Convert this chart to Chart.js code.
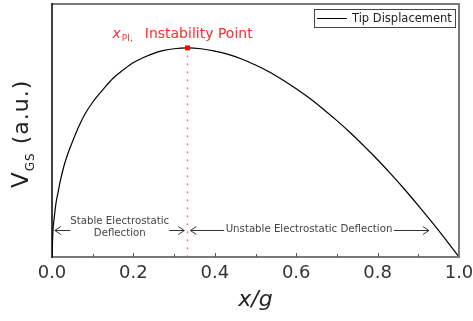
<!DOCTYPE html>
<html>
<head>
<meta charset="utf-8">
<script src="https://cdn.jsdelivr.net/npm/chart.js@4/dist/chart.umd.min.js"></script>
<style>
html,body{margin:0;padding:0;background:#fff;}
#wrap{width:473px;height:321px;}
</style>
</head>
<body>
<div id="wrap"><canvas id="c" width="473" height="321"></canvas></div>
<script>
// ---- data ----
const xValues   = [0, 0.0025, 0.005, 0.01, 0.015, 0.02, 0.03, 0.04, 0.05, 0.065, 0.08, 0.1, 0.125, 0.15, 0.175, 0.2, 0.225, 0.25, 0.275, 0.3, 0.333, 0.366, 0.4, 0.433, 0.466, 0.5, 0.533, 0.566, 0.6, 0.633, 0.666, 0.7, 0.733, 0.766, 0.8, 0.833, 0.866, 0.9, 0.933, 0.966, 1.0];
const vgsValues = [0, 0.13, 0.18, 0.26, 0.31, 0.36, 0.44, 0.50, 0.55, 0.62, 0.68, 0.74, 0.80, 0.855, 0.895, 0.93, 0.954, 0.974, 0.988, 0.996, 1.0, 0.996, 0.985, 0.969, 0.947, 0.918, 0.886, 0.848, 0.805, 0.759, 0.708, 0.652, 0.594, 0.532, 0.465, 0.396, 0.324, 0.246, 0.168, 0.087, 0];
const pullInX = [0.333];
const pullInV = [1.0];
const xTickValues = [0, 0.2, 0.4, 0.6, 0.8, 1.0];
const seriesName = 'Tip Displacement';
const stableLabel = ['Stable Electrostatic', 'Deflection'];
const unstableLabel = 'Unstable Electrostatic Deflection';
// arrow spans in data x: [tail, head]
const arrowSpans = [[0.045, 0.007], [0.288, 0.325], [0.423, 0.34], [0.84, 0.926]];
const annotY = 0.13;

const FONT = '"DejaVu Sans", Verdana, sans-serif';

const curve = xValues.map((x, i) => ({x: x, y: vgsValues[i]}));
const marker = pullInX.map((x, i) => ({x: x, y: pullInV[i]}));
const dotted = [{x: pullInX[0], y: 0}, {x: pullInX[0], y: pullInV[0]}];

const framePlugin = {
  id: 'frame',
  afterDraw(chart) {
    const ctx = chart.ctx, a = chart.chartArea, xs = chart.scales.x;
    ctx.save();
    ctx.strokeStyle = '#7a7a7a';
    ctx.lineWidth = 2;
    ctx.beginPath();
    ctx.moveTo(a.left, a.top); ctx.lineTo(a.right, a.top); ctx.lineTo(a.right, a.bottom);
    ctx.stroke();
    ctx.beginPath();
    ctx.moveTo(a.left, a.bottom); ctx.lineTo(a.right + 1, a.bottom);
    ctx.stroke();
    ctx.lineWidth = 1;
    ctx.strokeStyle = '#555';
    for (let i = 1; i < 10; i++) {
      const v = i / 10;
      const px = Math.round(xs.getPixelForValue(v)) + 0.5;
      const len = (i % 2 === 0) ? 4 : 3;
      ctx.beginPath(); ctx.moveTo(px, a.bottom); ctx.lineTo(px, a.bottom - len); ctx.stroke();
    }
    ctx.strokeStyle = '#000';
    ctx.lineWidth = 1.5;
    ctx.beginPath();
    ctx.moveTo(a.left, a.top - 1); ctx.lineTo(a.left, a.bottom + 1);
    ctx.stroke();
    ctx.restore();
  }
};

const yTitlePlugin = {
  id: 'ytitle',
  afterDraw(chart) {
    const ctx = chart.ctx;
    ctx.save();
    ctx.translate(28, 188);
    ctx.rotate(-Math.PI / 2);
    ctx.fillStyle = '#222';
    ctx.textBaseline = 'alphabetic';
    ctx.textAlign = 'left';
    ctx.font = '23px ' + FONT;
    ctx.fillText('V', 0, 0);
    let w = ctx.measureText('V').width;
    ctx.font = '12px ' + FONT;
    ctx.letterSpacing = '1px';
    ctx.fillText('GS', w + 1, 6);
    w += 1 + ctx.measureText('GS').width + 8;
    ctx.font = '22px ' + FONT;
    ctx.letterSpacing = '1px';
    ctx.fillText('(a.u.)', w, 0);
    ctx.restore();
  }
};

const legendPlugin = {
  id: 'legendbox',
  afterDraw(chart) {
    const ctx = chart.ctx;
    ctx.save();
    ctx.strokeStyle = '#444';
    ctx.lineWidth = 1;
    ctx.strokeRect(314.5, 9.5, 141, 18);
    ctx.strokeStyle = '#000';
    ctx.beginPath(); ctx.moveTo(317, 18.5); ctx.lineTo(347, 18.5); ctx.stroke();
    ctx.fillStyle = '#222';
    ctx.font = '11.5px ' + FONT;
    ctx.textBaseline = 'middle';
    ctx.textAlign = 'left';
    ctx.fillText(seriesName, 352, 19);
    ctx.restore();
  }
};

const annotPlugin = {
  id: 'annot',
  afterDatasetsDraw(chart) {
    const ctx = chart.ctx, xs = chart.scales.x, ys = chart.scales.y;
    ctx.save();
    const px = xs.getPixelForValue(pullInX[0]);
    const py = ys.getPixelForValue(pullInV[0]);
    ctx.fillStyle = '#ff2a2a';
    ctx.textBaseline = 'alphabetic';
    ctx.textAlign = 'left';
    let tx = px - 75, ty = py - 10;
    ctx.font = 'italic 14px ' + FONT;
    ctx.fillText('x', tx, ty);
    tx += ctx.measureText('x').width + 1;
    ctx.font = '9px ' + FONT;
    ctx.fillText('PI,', tx, ty + 3);
    tx += ctx.measureText('PI,').width + 12;
    ctx.font = '14px ' + FONT;
    ctx.fillText('Instability Point', tx, ty);

    const ay = Math.round(ys.getPixelForValue(annotY)) + 0.5;
    ctx.strokeStyle = '#333';
    ctx.lineWidth = 1;
    arrowSpans.forEach(([t, h]) => {
      const x0 = xs.getPixelForValue(t), x1 = xs.getPixelForValue(h);
      const dir = Math.sign(x1 - x0);
      ctx.beginPath();
      ctx.moveTo(x0, ay); ctx.lineTo(x1, ay);
      ctx.moveTo(x1 - dir * 6, ay - 4); ctx.lineTo(x1, ay); ctx.lineTo(x1 - dir * 6, ay + 4);
      ctx.stroke();
    });
    ctx.fillStyle = '#444';
    ctx.font = '10.2px ' + FONT;
    ctx.textAlign = 'center';
    ctx.textBaseline = 'middle';
    const sx = (xs.getPixelForValue(arrowSpans[0][0]) + xs.getPixelForValue(arrowSpans[1][0])) / 2;
    ctx.fillText(stableLabel[0], sx, ay - 9);
    ctx.fillText(stableLabel[1], sx, ay + 3);
    const ux = (xs.getPixelForValue(arrowSpans[2][0]) + xs.getPixelForValue(arrowSpans[3][0])) / 2;
    ctx.fillText(unstableLabel, ux, ay - 1);
    ctx.restore();
  }
};

new Chart(document.getElementById('c'), {
  type: 'line',
  data: {
    datasets: [
      {
        label: seriesName,
        data: curve,
        borderColor: '#000',
        borderWidth: 1.2,
        pointRadius: 0,
        cubicInterpolationMode: 'monotone',
        fill: false,
        order: 3
      },
      {
        label: 'pull-in line',
        data: dotted,
        borderColor: '#ff5a5a',
        borderWidth: 1.5,
        borderDash: [1.5, 6.5],
        pointRadius: 0,
        fill: false,
        order: 2
      },
      {
        label: 'pull-in point',
        data: marker,
        showLine: false,
        pointStyle: 'rect',
        pointRadius: 3.5,
        pointBackgroundColor: '#ff0000',
        pointBorderColor: '#ff0000',
        borderWidth: 0,
        order: 1
      }
    ]
  },
  options: {
    responsive: false,
    animation: false,
    devicePixelRatio: 1,
    layout: {padding: {left: 52, right: 14, top: 4, bottom: 0}},
    plugins: {legend: {display: false}, tooltip: {enabled: false}},
    scales: {
      x: {
        type: 'linear',
        min: 0, max: 1,
        afterBuildTicks(scale) { scale.ticks = xTickValues.map(v => ({value: v})); },
        afterFit(scale) { scale.height = 64; scale.paddingLeft = 0; scale.paddingRight = 0; },
        grid: {display: false, drawTicks: false},
        border: {display: false},
        ticks: {
          padding: 6,
          color: '#333',
          font: {family: FONT, size: 18},
          maxRotation: 0,
          callback: v => Number(v).toFixed(1)
        },
        title: {
          display: true,
          text: 'x/g',
          color: '#222',
          font: {family: FONT, size: 22, style: 'italic'},
          padding: {top: 0, bottom: 8}
        }
      },
      y: {
        type: 'linear',
        min: 0, max: 1.21,
        display: false
      }
    }
  },
  plugins: [annotPlugin, framePlugin, yTitlePlugin, legendPlugin]
});
</script>
</body>
</html>
